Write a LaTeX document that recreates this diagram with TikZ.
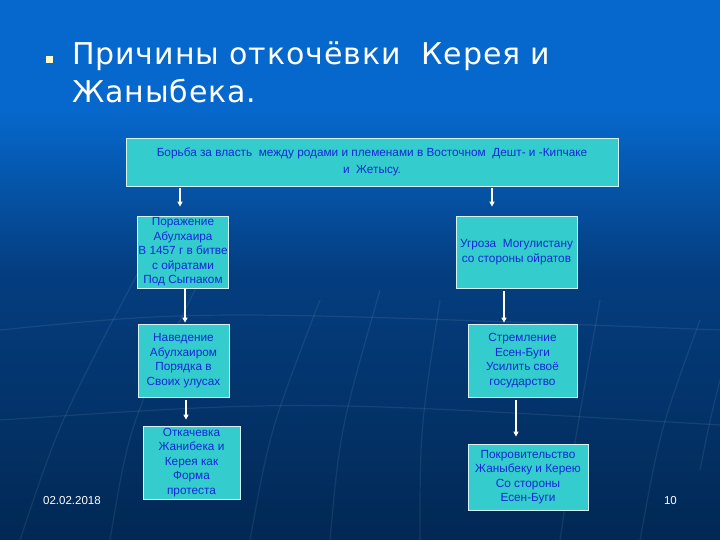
\documentclass[tikz,border=0pt]{standalone}
\usepackage{fontspec}
\setmainfont{Liberation Sans}
\newfontfamily\titlefont[LetterSpace=3]{DejaVu Sans}
\usetikzlibrary{arrows.meta}
\definecolor{bgtop}{RGB}{6,104,204}
\definecolor{bgmid}{RGB}{4,62,128}
\definecolor{bgbot}{RGB}{2,40,84}
\definecolor{boxfill}{RGB}{52,204,204}
\definecolor{boxtext}{RGB}{20,40,215}
\definecolor{bulletc}{RGB}{255,250,200}
\tikzset{
  box/.style={draw=white!85!cyan, line width=0.8pt, fill=boxfill, text=boxtext,
    font=\fontsize{11.8}{14.5}\selectfont, align=center, inner sep=1pt},
  arr/.style={draw=white, line width=1.4pt, -{Triangle[width=5pt,length=5pt]}},
  streak/.style={draw=white, opacity=0.08, line width=1.2pt}
}
\begin{document}
\begin{tikzpicture}[x=1pt,y=-1pt]
\useasboundingbox (0,0) rectangle (720,540);
\fill[bgtop] (0,0) rectangle (720,110);
\shade[top color=bgtop, bottom color=bgmid] (0,110) rectangle (720,270);
\shade[top color=bgmid, bottom color=bgbot] (0,270) rectangle (720,540);
% faint streaks
\draw[streak] (20,540) .. controls (60,420) .. (150,250);
\draw[streak] (110,540) .. controls (130,420) .. (210,260);
\draw[streak] (250,540) .. controls (270,430) .. (320,300);
\draw[streak] (330,540) .. controls (340,430) .. (380,290);
\draw[streak] (420,540) .. controls (420,430) .. (440,300);
\draw[streak] (560,540) .. controls (575,440) .. (600,300);
\draw[streak] (640,540) .. controls (660,430) .. (700,320);
\draw[streak] (700,470) .. controls (710,420) .. (720,380);
\draw[streak] (0,330) .. controls (200,310) .. (720,330);
\draw[streak] (0,420) .. controls (300,400) .. (720,425);
% title
\node[fill=bulletc, minimum size=7pt, inner sep=0pt] (bullet) at (49.5,60) {};
\node[anchor=base west, text=white, font=\titlefont\fontsize{30}{38}\selectfont, align=left, inner sep=0pt] (title) at (72,103)
  {Причины откочёвки \ Керея и\\Жаныбека.};
% boxes
\node[box, minimum width=492pt, minimum height=48pt, font=\fontsize{11.8}{17}\selectfont] (top) at (372,162)
  {Борьба за власть \ между родами и племенами в Восточном \ Дешт- и -Кипчаке\\и \ Жетысу.};
\node[box, minimum width=91pt, minimum height=72pt] (L1) at (183,252)
  {Поражение\\Абулхаира\\В 1457 г в битве\\с ойратами\\Под Сыгнаком};
\node[box, minimum width=121pt, minimum height=72pt] (R1) at (516.5,252)
  {Угроза \ Могулистану\\со стороны ойратов};
\node[box, minimum width=91pt, minimum height=73pt] (L2) at (183.5,360.5)
  {Наведение\\Абулхаиром\\Порядка в\\Своих улусах};
\node[box, minimum width=109pt, minimum height=73pt] (R2) at (522.5,360.5)
  {Стремление\\Есен-Буги\\Усилить своё\\государство};
\node[box, minimum width=97pt, minimum height=73pt] (L3) at (191.5,462.5)
  {Откачевка\\Жанибека и\\Керея как\\Форма\\протеста};
\node[box, minimum width=120pt, minimum height=66pt] (R3) at (528,477)
  {Покровительство\\Жаныбеку и Керею\\Со стороны\\Есен-Буги};
% arrows
\draw[arr, shorten >=9pt, shorten <=2pt] ([xshift=-3pt]top.south -| L1.north) -- ([xshift=-3pt]L1.north);
\draw[arr, shorten >=9pt, shorten <=2pt] ([xshift=-24.5pt]top.south -| R1.north) -- ([xshift=-24.5pt]R1.north);
\draw[arr, shorten >=1pt] ([xshift=2pt]L1.south) -- ([xshift=1.5pt]L2.north);
\draw[arr, shorten >=1pt, shorten <=3pt] ([xshift=-12.5pt]R1.south) -- ([xshift=-18.5pt]R2.north);
\draw[arr, shorten >=6pt, shorten <=3pt] ([xshift=2.5pt]L2.south) -- ([xshift=-5.5pt]L3.north);
\draw[arr, shorten >=7pt, shorten <=3pt] ([xshift=-6.5pt]R2.south) -- ([xshift=-12pt]R3.north);
% footer
\node[text=white, font=\fontsize{11.5}{12}\selectfont, anchor=west, inner sep=0pt] (date) at (43,501) {02.02.2018};
\node[text=white, font=\fontsize{11.5}{12}\selectfont, anchor=east, inner sep=0pt] (page) at (677,501) {10};
\end{tikzpicture}
\end{document}
